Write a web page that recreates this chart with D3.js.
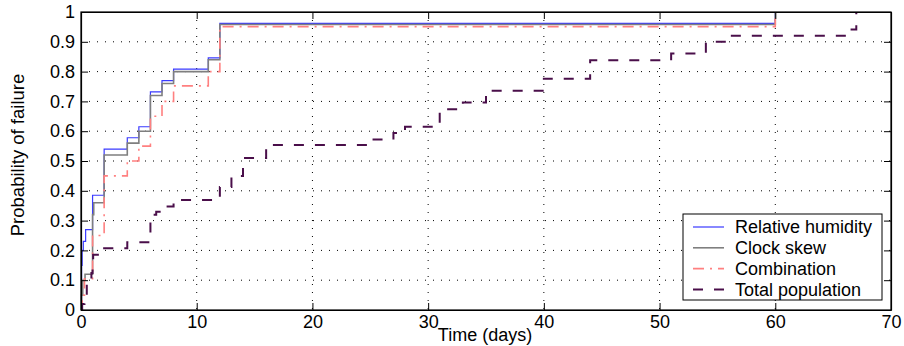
<!DOCTYPE html>
<html>
<head>
<meta charset="utf-8">
<script src="https://cdn.jsdelivr.net/npm/d3@7"></script>
<style>
  body { margin: 0; background: #fff; }
  text { font-family: "Liberation Sans", Arial, sans-serif; }
</style>
</head>
<body>
<div id="chart"></div>
<script>
// failure-time CDFs (days, probability)
const humidityDays = [0, 0.05, 0.1, 0.2, 0.4, 1, 2, 4, 5, 6, 7, 8, 11, 12, 60];
const humidityProb = [0, 0.15, 0.2, 0.23, 0.27, 0.385, 0.54, 0.578, 0.615, 0.732, 0.77, 0.808, 0.846, 0.962, 1];

const skewDays = [0, 0.05, 0.15, 0.35, 1, 1.1, 2, 4, 5, 6, 7, 8, 11, 12, 60];
const skewProb = [0, 0.05, 0.1, 0.12, 0.32, 0.36, 0.52, 0.56, 0.6, 0.72, 0.76, 0.8, 0.84, 0.958, 1];

const comboDays = [0, 0.1, 0.3, 1, 2, 4, 5, 6, 7, 8, 11, 12, 60];
const comboProb = [0, 0.05, 0.105, 0.25, 0.45, 0.5, 0.55, 0.65, 0.7, 0.752, 0.8, 0.951, 1];

const totalDays = [0, 0.1, 0.3, 0.5, 0.9, 1, 1.05, 2, 4, 6, 6.5, 7, 8, 12, 13, 14, 16, 25, 27, 28, 31, 33, 35, 40, 44, 51, 54, 56, 66.4, 67];
const totalProb = [0, 0.02, 0.05, 0.085, 0.124, 0.15, 0.185, 0.207, 0.227, 0.32, 0.33, 0.347, 0.369, 0.413, 0.45, 0.51, 0.554, 0.572, 0.594, 0.615, 0.674, 0.696, 0.736, 0.776, 0.838, 0.861, 0.9, 0.92, 0.941, 1];

const seriesNames = ["Relative humidity", "Clock skew", "Combination", "Total population"];
const xTicks = [0, 10, 20, 30, 40, 50, 60, 70];
const yTicks = [0, 0.1, 0.2, 0.3, 0.4, 0.5, 0.6, 0.7, 0.8, 0.9, 1];

const W = 904, H = 346;
const margin = { top: 12, right: 13, bottom: 36, left: 81 };
const width = W - margin.left - margin.right;
const height = H - margin.top - margin.bottom;

const svg = d3.select("#chart").append("svg")
  .attr("width", W)
  .attr("height", H);

const g = svg.append("g")
  .attr("transform", "translate(" + margin.left + "," + margin.top + ")");

const x = d3.scaleLinear().domain([0, 70]).range([0, width]);
const y = d3.scaleLinear().domain([0, 1]).range([height, 0]);

// dotted grid
g.append("g").selectAll("line")
  .data(xTicks.slice(1, -1))
  .enter().append("line")
  .attr("x1", d => x(d)).attr("x2", d => x(d))
  .attr("y1", 0).attr("y2", height)
  .attr("stroke", "#000").attr("stroke-width", 1)
  .attr("stroke-dasharray", "1,7");

g.append("g").selectAll("line")
  .data(yTicks.slice(1, -1))
  .enter().append("line")
  .attr("x1", 0).attr("x2", width)
  .attr("y1", d => y(d)).attr("y2", d => y(d))
  .attr("stroke", "#000").attr("stroke-width", 1)
  .attr("stroke-dasharray", "1,7");

// step lines
const line = d3.line()
  .x(d => x(d[0]))
  .y(d => y(d[1]))
  .curve(d3.curveStepAfter);

const series = [
  { days: humidityDays, prob: humidityProb, color: "#3a3aff", w: 1.2, dash: null },
  { days: skewDays, prob: skewProb, color: "#7f7f7f", w: 1.6, dash: null },
  { days: comboDays, prob: comboProb, color: "#ff8080", w: 1.6, dash: "11,6,2,6" },
  { days: totalDays, prob: totalProb, color: "#4a0f4a", w: 2, dash: "10,11" }
];

series.forEach(s => {
  g.append("path")
    .datum(s.days.map((d, i) => [d, s.prob[i]]))
    .attr("d", line)
    .attr("fill", "none")
    .attr("stroke", s.color)
    .attr("stroke-width", s.w)
    .attr("stroke-dasharray", s.dash);
});

// axes with inward ticks on all sides
const fmtY = d => (d === 0 || d === 1) ? String(d) : d.toFixed(1);

g.append("g")
  .attr("transform", "translate(0," + height + ")")
  .call(d3.axisBottom(x).tickValues(xTicks).tickSizeInner(-7).tickSizeOuter(0).tickPadding(5));
g.append("g")
  .call(d3.axisLeft(y).tickValues(yTicks).tickFormat(fmtY).tickSizeInner(-7).tickSizeOuter(0).tickPadding(6));
g.append("g")
  .call(d3.axisTop(x).tickValues(xTicks).tickFormat("").tickSizeInner(-7).tickSizeOuter(0));
g.append("g")
  .attr("transform", "translate(" + width + ",0)")
  .call(d3.axisRight(y).tickValues(yTicks).tickFormat("").tickSizeInner(-7).tickSizeOuter(0));

g.selectAll(".domain").attr("stroke", "#000").attr("stroke-width", 1.2);
g.selectAll(".tick line").attr("stroke", "#000");
g.selectAll(".tick text").style("font-size", "18px").attr("fill", "#000")
  .style("font-family", "'Liberation Sans', Arial, sans-serif");

g.append("rect")
  .attr("width", width).attr("height", height)
  .attr("fill", "none").attr("stroke", "#000").attr("stroke-width", 1.2);

// axis titles
svg.append("text")
  .attr("x", 485).attr("y", 341)
  .attr("text-anchor", "middle")
  .style("font-size", "18px")
  .text("Time (days)");

svg.append("text")
  .attr("transform", "translate(24," + (margin.top + 143) + ") rotate(-90)")
  .attr("text-anchor", "middle")
  .style("font-size", "18.5px")
  .text("Probability of failure");

// legend
const legend = svg.append("g").attr("transform", "translate(683,214)");
legend.append("rect")
  .attr("width", 199).attr("height", 86)
  .attr("fill", "#fff").attr("stroke", "#000").attr("stroke-width", 1);

seriesNames.forEach((name, i) => {
  const s = series[i];
  const yy = 13 + i * 20.8;
  legend.append("line")
    .attr("x1", 10).attr("x2", 41)
    .attr("y1", yy).attr("y2", yy)
    .attr("stroke", s.color)
    .attr("stroke-width", s.w)
    .attr("stroke-dasharray", s.dash);
  legend.append("text")
    .attr("x", 52).attr("y", yy)
    .attr("dy", "0.35em")
    .style("font-size", "18px")
    .text(name);
});
</script>
</body>
</html>
